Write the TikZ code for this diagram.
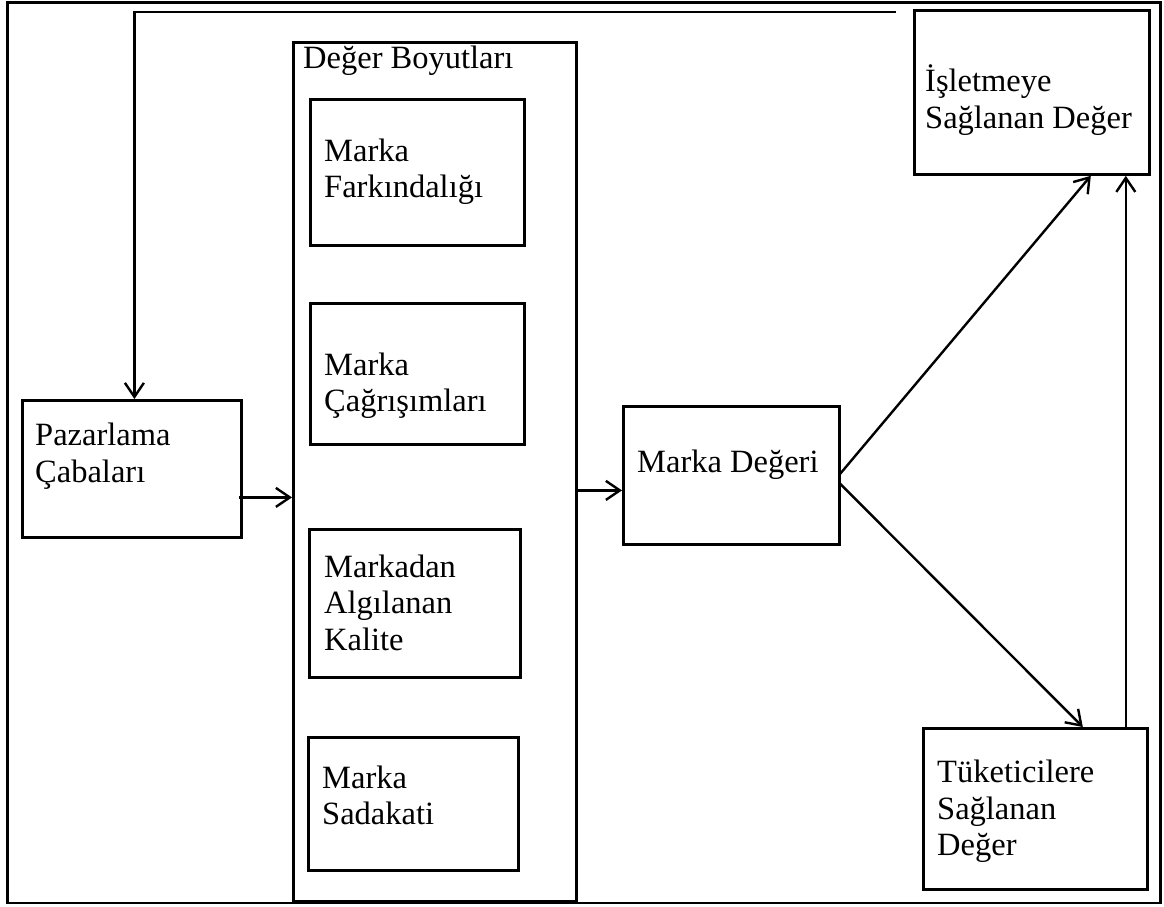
\documentclass[tikz,border=0pt]{standalone}
\usepackage{fontspec}
\setmainfont{Liberation Serif}
\usetikzlibrary{arrows.meta}
\begin{document}
\begin{tikzpicture}[x=1pt,y=-1pt,
  box/.style={draw,line width=2.8pt,inner sep=0pt,anchor=north west},
  lbl/.style={anchor=base west,inner sep=0pt,font=\fontsize{32.5}{36}\selectfont},
  arr/.style={line width=2.4pt,-{Straight Barb[length=14pt,width=19pt,line width=2.4pt]}}]
\useasboundingbox (0,0) rectangle (1164,907);
% outer frame
\node[box,minimum width=1153pt,minimum height=900pt] (frame) at (6,1.5) {};
% marketing efforts
\node[box,minimum width=219pt,minimum height=137pt] (pz) at (21,399) {};
\node[lbl] (pz1) at (35,445) {Pazarlama};
\node[lbl] (pz2) at (35,482) {Çabaları};
% value dimensions container
\node[box,minimum width=283pt,minimum height=859pt] (dim) at (292,41) {};
\node[lbl] (dimt) at (303,69) {Değer Boyutları};
\node[box,minimum width=214pt,minimum height=146pt] (fa) at (309,98) {};
\node[lbl] (fa1) at (324,161) {Marka};
\node[lbl] (fa2) at (324,197.5) {Farkındalığı};
\node[box,minimum width=214pt,minimum height=141pt] (ca) at (309,302) {};
\node[lbl] (ca1) at (324,375) {Marka};
\node[lbl] (ca2) at (324,411.5) {Çağrışımları};
\node[box,minimum width=211pt,minimum height=148pt] (ak) at (308,528) {};
\node[lbl] (ak1) at (324,577) {Markadan};
\node[lbl] (ak2) at (324,613.5) {Algılanan};
\node[lbl] (ak3) at (324,650) {Kalite};
\node[box,minimum width=210pt,minimum height=133pt] (sa) at (307,736) {};
\node[lbl] (sa1) at (322,788) {Marka};
\node[lbl] (sa2) at (322,824) {Sadakati};
% brand equity
\node[box,minimum width=216pt,minimum height=138pt] (md) at (622,405) {};
\node[lbl] (md1) at (637,472) {Marka Değeri};
% value to the firm
\node[box,minimum width=235pt,minimum height=164pt] (is) at (913,9) {};
\node[lbl] (is1) at (925,92) {İşletmeye};
\node[lbl] (is2) at (925,128) {Sağlanan Değer};
% value to consumers
\node[box,minimum width=224pt,minimum height=161pt] (tk) at (922,727) {};
\node[lbl] (tk1) at (937,782) {Tüketicilere};
\node[lbl] (tk2) at (937,819) {Sağlanan};
\node[lbl] (tk3) at (937,855) {Değer};
% feedback loop
\coordinate (fb) at (896,12);
\draw[arr] (fb) -| ([xshift=2.5pt]pz.north);
% main flow
\draw[arr] ([shift={(-4,28.5)}]pz.east) coordinate (a1) -- (a1 -| dim.west);
\draw[arr] ([yshift=-15pt]dim.east |- md.east) coordinate (a2) -- (a2 -| md.west);
\draw[arr] ([xshift=-2pt]md.east) -- ([xshift=-60pt]is.south east);
\draw[arr] ([shift={(-1,8)}]md.east) -- ([xshift=-66pt]tk.north east);
\coordinate (v1) at ([xshift=-25pt]is.south east);
\draw[arr] (v1 |- tk.north) -- (v1);
\end{tikzpicture}
\end{document}
